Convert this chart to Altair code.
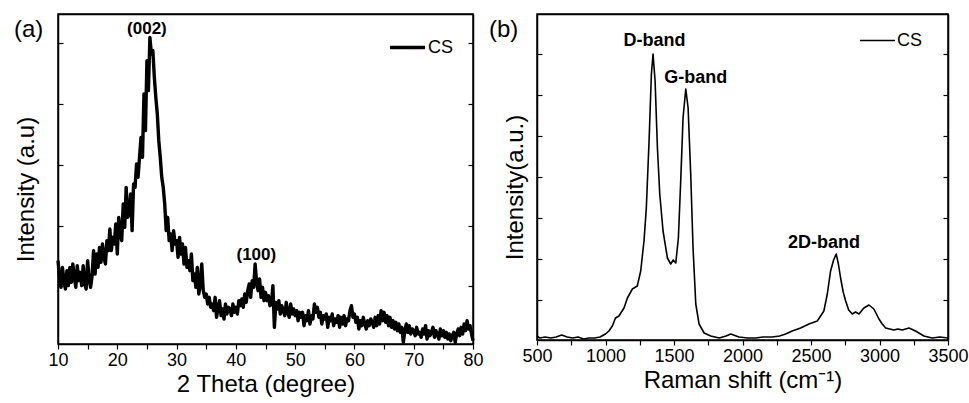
import altair as alt
import pandas as pd

FONT = "Liberation Sans"

# ---------------- (a) XRD data ----------------
xrd_start = 10.0
xrd_step = 0.25
xrd_intensity = [
    250, 200, 170, 230,   # 10
    190, 165, 220, 175,   # 11
    230, 185, 240, 200,   # 12
    170, 235, 190, 215,   # 13
    175, 235, 180, 165,   # 14
    250, 195, 170, 205,   # 15
    280, 210, 270, 230,   # 16
    290, 245, 300, 260,   # 17
    240, 310, 280, 345,   # 18
    280, 320, 300, 360,   # 19
    270, 380, 330, 310,   # 20
    420, 350, 470, 380,   # 21
    390, 450, 340, 480,   # 22
    470, 540, 500, 560,   # 23
    620, 560, 750, 640,   # 24
    850, 760, 920, 870,   # 25
    880, 800, 740, 690,   # 26
    610, 560, 500, 470,   # 27
    420, 340, 380, 310,   # 28
    330, 280, 340, 300,   # 29
    310, 260, 320, 270,   # 30
    300, 240, 290, 230,   # 31
    250, 220, 270, 190,   # 32
    210, 170, 230, 150,   # 33
    180, 240, 160, 140,   # 34
    150, 120, 140, 110,   # 35
    120, 100, 140, 80,    # 36
    110, 130, 85, 105,    # 37
    75, 120, 90, 110,     # 38
    105, 85, 120, 95,     # 39
    110, 90, 130, 115,    # 40
    135, 110, 150, 125,   # 41
    160, 180, 140, 190,   # 42
    170, 240, 185, 160,   # 43
    195, 140, 170, 130,   # 44
    155, 130, 145, 115,   # 45
    120, 175, 50, 125,    # 46
    105, 130, 90, 115,    # 47
    100, 85, 125, 95,     # 48
    80, 120, 90, 105,     # 49
    85, 100, 70, 95,      # 50
    80, 95, 55, 85,       # 51
    70, 100, 60, 85,      # 52
    75, 120, 95, 110,     # 53
    80, 95, 60, 85,       # 54
    75, 90, 50, 80,       # 55
    70, 90, 55, 75,       # 56
    65, 85, 50, 80,       # 57
    60, 85, 55, 75,       # 58
    70, 100, 115, 80,     # 59
    90, 65, 80, 45,       # 60
    70, 55, 80, 60,       # 61
    45, 70, 55, 75,       # 62
    65, 50, 80, 55,       # 63
    85, 60, 100, 70,      # 64
    95, 65, 85, 55,       # 65
    80, 50, 70, 45,       # 66
    65, 40, 60, 35,       # 67
    50, 5, 40, 60,        # 68
    35, 55, 30, 45,       # 69
    40, 25, 50, 30,       # 70
    35, 20, 45, 30,       # 71
    55, 15, 40, 25,       # 72
    35, 50, 20, 40,       # 73
    30, 15, 45, 25,       # 74
    40, 20, 35, 15,       # 75
    30, 10, 25, 35,       # 76
    5, 30, 45, 25,        # 77
    50, 30, 60, 40,       # 78
    70, 45, 55, 30,       # 79
    10,                   # 80
]
xrd_two_theta = [xrd_start + i * xrd_step for i in range(len(xrd_intensity))]

xrd_peak_labels = ["(002)", "(100)"]
xrd_peak_x = [25.0, 43.45]
xrd_peak_y = [944, 267]

xrd_x_ticks = [10, 15, 20, 25, 30, 35, 40, 45, 50, 55, 60, 65, 70, 75, 80]
xrd_y_ticks = [174, 355, 537, 719, 902]

# ---------------- (b) Raman data ----------------
raman_shift = [500, 520, 560, 600, 640, 680, 720, 760, 800, 840, 880, 920, 960,
               1000, 1025, 1050, 1073, 1098, 1135, 1160, 1196, 1232, 1257, 1281,
               1298, 1318, 1335, 1347, 1362, 1379, 1396, 1420, 1452, 1476, 1494,
               1513, 1532, 1549, 1566, 1586, 1603, 1622, 1639, 1659, 1683, 1720,
               1768, 1830, 1880, 1915, 1974, 2040, 2096, 2150, 2217, 2270, 2315,
               2363, 2424, 2485, 2546, 2594, 2619, 2643, 2665, 2684, 2700, 2716,
               2735, 2753, 2775, 2801, 2825, 2850, 2886, 2923, 2959, 2996, 3020,
               3045, 3075, 3105, 3135, 3166, 3215, 3263, 3300, 3324, 3385, 3440, 3500]
raman_intensity = [4, 2, 3, 2, 3, 5, 3, 2, 3, 1, 2, 2, 3,
                   6, 9, 14, 22, 24, 32, 42, 51, 54, 69, 99,
                   132, 199, 266, 286, 259, 192, 146, 109, 82, 76, 80,
                   77, 102, 159, 222, 251, 232, 166, 92, 36, 16, 7,
                   4, 2, 4, 6, 3, 2, 2, 3, 3, 4, 6,
                   9, 12, 16, 19, 29, 46, 69, 80, 86, 76, 62,
                   48, 39, 30, 26, 28, 26, 32, 35, 31, 21, 16,
                   12, 11, 10, 11, 10, 12, 9, 6, 4, 2, 3, 2]

raman_peak_labels = ["D-band", "G-band", "2D-band"]
raman_peak_x = [1357, 1659, 2594]
raman_peak_y = [299, 262, 97]

raman_x_ticks = [500, 750, 1000, 1250, 1500, 1750, 2000, 2250, 2500, 2750,
                 3000, 3250, 3500]
raman_y_ticks = [40, 81, 122, 163, 204, 245, 286]

series_name = ["CS"]

FRAME_W = 1.5


def panel(xs, ys, lab_x, lab_y, labs, x_dom, y_dom, x_ticks, y_ticks,
          x_title, y_title, panel_title, w, h, line_w, legend_x, legend_y,
          title_dx, y_title_pad, label_size):
    df = pd.DataFrame({"x": xs, "y": ys, "series": series_name[0]})
    lab_df = pd.DataFrame({"x": lab_x, "y": lab_y, "label": labs})

    x_scale = alt.Scale(domain=x_dom, nice=False, zero=False)
    y_scale = alt.Scale(domain=y_dom, nice=False, zero=False)

    # bottom x axis (with frame line)
    x_bottom = alt.X("x:Q", scale=x_scale,
                     axis=alt.Axis(orient="bottom", values=x_ticks, title=x_title,
                                   labelExpr="datum.value % " + str(x_ticks[2] - x_ticks[0]) + " === 0 ? datum.label : ''",
                                   format="d", grid=False, domain=True,
                                   domainColor="black", domainWidth=FRAME_W,
                                   tickSize=5, tickWidth=1.2, tickColor="black",
                                   labelFontSize=18, labelColor="black", labelFont=FONT,
                                   labelPadding=2, titleFontSize=24, titleFont=FONT,
                                   titleFontWeight="normal", titleColor="black",
                                   titlePadding=3, labelFlush=False))
    # top x axis: frame line only
    x_top = alt.X("x:Q", scale=x_scale,
                  axis=alt.Axis(orient="top", ticks=False, labels=False, title=None,
                                grid=False, domain=True, domainColor="black",
                                domainWidth=FRAME_W))
    x_none = alt.X("x:Q", scale=x_scale, axis=None)

    line = alt.Chart(df).mark_line(strokeWidth=line_w, strokeJoin="round").encode(
        x=x_bottom,
        y=alt.Y("y:Q", scale=y_scale,
                axis=alt.Axis(orient="left", title=y_title, ticks=False, labels=False,
                              domain=False, grid=False, titleFontSize=24,
                              titleFont=FONT, titleFontWeight="normal",
                              titleColor="black", titlePadding=y_title_pad,
                              titleY=h / 2 + 10)),
        color=alt.Color("series:N",
                        scale=alt.Scale(domain=series_name, range=["black"]),
                        legend=alt.Legend(orient="none", legendX=legend_x,
                                          legendY=legend_y, title=None,
                                          symbolType="stroke", symbolSize=1225,
                                          symbolStrokeWidth=line_w,
                                          symbolStrokeColor="black",
                                          labelFontSize=18, labelFont=FONT,
                                          labelColor="black", labelOffset=1,
                                          padding=0)),
    )

    # left frame line + inward ticks
    text = alt.Chart(lab_df).mark_text(fontSize=label_size, fontWeight="bold",
                                       font=FONT, color="black",
                                       baseline="middle").encode(
        x=x_none,
        y=alt.Y("y:Q", scale=y_scale,
                axis=alt.Axis(orient="right", offset=-w, values=y_ticks,
                              labels=False, title=None, grid=False,
                              domain=True, domainColor="black", domainWidth=FRAME_W,
                              tickSize=5, tickWidth=1.2, tickColor="black")),
        text="label:N",
    )

    # right frame line + inward ticks, and top frame line
    ghost = alt.Chart(df).mark_line(strokeOpacity=0).encode(
        x=x_top,
        y=alt.Y("y:Q", scale=y_scale,
                axis=alt.Axis(orient="left", offset=-w, values=y_ticks,
                              labels=False, title=None, grid=False,
                              domain=True, domainColor="black", domainWidth=FRAME_W,
                              tickSize=5, tickWidth=1.2, tickColor="black")),
    )

    return alt.layer(line, text, ghost).resolve_axis(
        x="independent", y="independent").properties(
        width=w, height=h,
        title=alt.TitleParams(panel_title, anchor="start", frame="bounds",
                              fontSize=24, font=FONT, fontWeight="normal",
                              color="black", dx=title_dx, offset=-28),
    )


left = panel(xrd_two_theta, xrd_intensity, xrd_peak_x, xrd_peak_y, xrd_peak_labels,
             [10, 80], [0, 990], xrd_x_ticks, xrd_y_ticks,
             "2 Theta (degree)", "Intensity (a.u)", "(a)", 415, 330, 3.4,
             330, 14, 0, 20, 17)

right = panel(raman_shift, raman_intensity, raman_peak_x, raman_peak_y,
              raman_peak_labels, [500, 3500], [0, 326], raman_x_ticks,
              raman_y_ticks, "Raman shift (cm⁻¹)", "Intensity(a.u.)", "(b)",
              411, 326, 1.6, 322, 8, -14, 10, 18)

chart = alt.hconcat(left, right, spacing=4).resolve_legend(
    color="independent").resolve_scale(color="independent").configure(
    padding={"left": 13, "top": 13, "right": 0, "bottom": 0},
    background="white").configure_view(stroke="black", strokeWidth=FRAME_W)

chart.save("out.html", embed_options={"renderer": "svg", "actions": False})
